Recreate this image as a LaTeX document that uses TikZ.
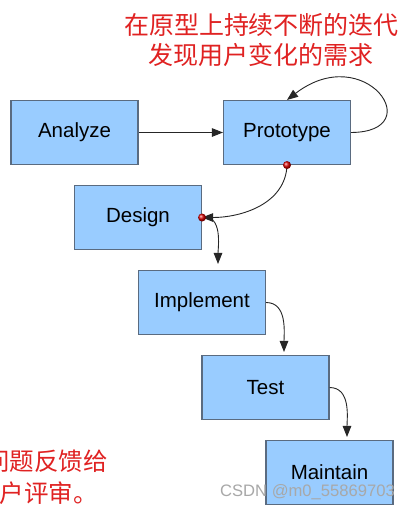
\documentclass[tikz,border=0pt]{standalone}
\usepackage{fontspec}
\setmainfont{Liberation Sans}
\newfontfamily\cjk{Noto Sans CJK SC}
\usetikzlibrary{arrows.meta}
\definecolor{boxfill}{HTML}{99CCFF}
\definecolor{boxline}{HTML}{5A6B80}
\definecolor{redtxt}{HTML}{E02222}
\definecolor{wmgray}{HTML}{A8A8A8}
\tikzset{
  stepbox/.style={draw=boxline, line width=1.1pt, fill=boxfill, rectangle,
    minimum width=127pt, minimum height=64pt, inner sep=0pt,
    font=\fontsize{20.5pt}{24pt}\selectfont},
  conn/.style={draw=black!85, line width=0.9pt, -{Triangle[length=11pt,width=8.5pt]}},
  reddot/.style={ball color=red!85!black},
  redlabel/.style={text=redtxt, font=\cjk\fontsize{25pt}{30pt}\selectfont, inner sep=0pt}
}
\begin{document}
\begin{tikzpicture}[x=1pt,y=-1pt]
\useasboundingbox (0,0) rectangle (411,512);
\fill[white] (0,0) rectangle (411,512);
\clip (0,0) rectangle (411,512);

\node[stepbox] (analyze) at (74.5,132.5) {Analyze};
\node[stepbox] (proto) at (287,132.5) {Prototype};
\node[stepbox] (design) at (138,217.5) {Design};
\node[stepbox] (impl) at (202,302.5) {Implement};
\node[stepbox] (test) at (265.5,387.5) {Test};
\node[stepbox] (maint) at (329.5,472.5) {Maintain};

\coordinate (pb) at (proto.south);
\coordinate (de) at (design.east);

\draw[conn] (analyze.east) -- (proto.west);
\draw[conn] (proto.east) .. controls (430,132) and (365,40) .. (proto.north);
\draw[conn] (pb) to[out=-92,in=0] (de);
\draw[conn, shorten >=6pt] (de) to[out=10,in=90] (impl.north -| 218,0);
\draw[conn, shorten >=3pt] (impl.east) to[out=0,in=90] (test.north -| 284,0);
\draw[conn, shorten >=3pt] (test.east) to[out=0,in=90] (maint.north -| 347,0);

\shade[reddot] (pb) circle (4pt);
\shade[reddot] (de) circle (4pt);

\node[redlabel] (t1) at (261.5,25) {在原型上持续不断的迭代};
\node[redlabel] (t2) at (260.5,55) {发现用户变化的需求};
\node[redlabel, anchor=east, font=\cjk\fontsize{24.5pt}{30pt}\selectfont] (b1) at (108,461) {问题反馈给};
\node[redlabel, anchor=east, font=\cjk\fontsize{24.5pt}{30pt}\selectfont] (b2) at (98,493) {用户评审。};

\node[text=wmgray, font=\fontsize{16.6pt}{18pt}\selectfont, inner sep=0pt] (wm) at (307.5,492) {CSDN @m0\_55869703};
\end{tikzpicture}
\end{document}
